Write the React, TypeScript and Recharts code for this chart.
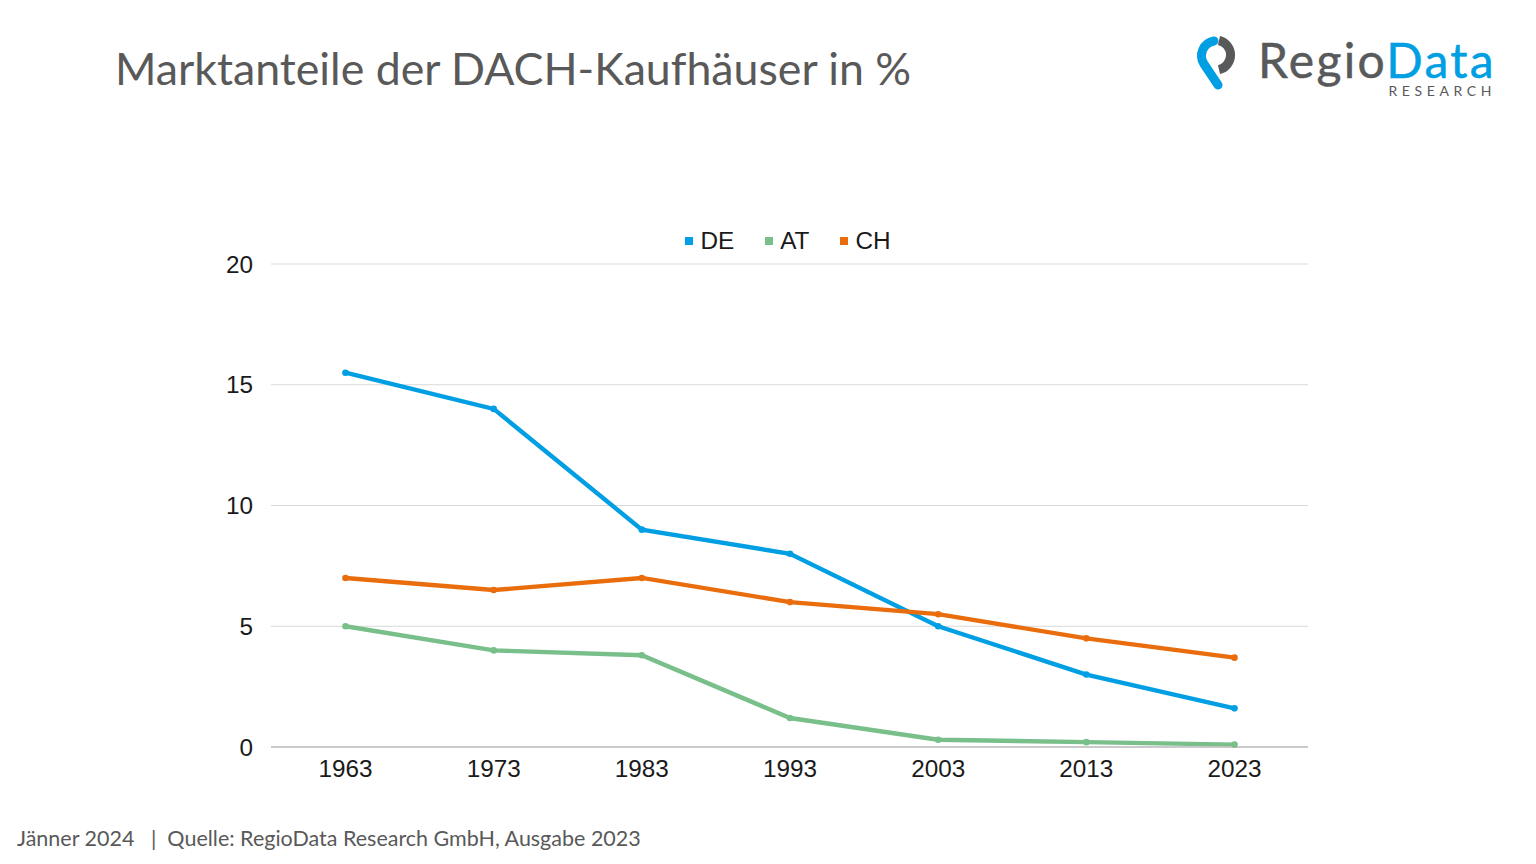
import { LineChart, Line, XAxis, YAxis, CartesianGrid, Legend } from 'recharts';

const years = ['1963', '1973', '1983', '1993', '2003', '2013', '2023'];
const de = [15.5, 14, 9, 8, 5, 3, 1.6];
const at = [5, 4, 3.8, 1.2, 0.3, 0.2, 0.1];
const ch = [7, 6.5, 7, 6, 5.5, 4.5, 3.7];
const yTicks = [0, 5, 10, 15, 20];

const BLUE = '#009fe3';
const GREEN = '#78bf8a';
const ORANGE = '#e96d0c';

const rows = years.map((year, i) => ({ year, DE: de[i], AT: at[i], CH: ch[i] }));

const chartFont = '"Liberation Sans", Arial, sans-serif';
const textFont = 'Lato, sans-serif';

function Logo() {
  return (
    <div style={{ position: 'absolute', left: 1190, top: 34, width: 310, height: 68 }}>
      <svg width={56} height={60} style={{ position: 'absolute', left: 0, top: 0 }}>
        <path d="M24 7 A15 15 0 0 0 14 30 L28 51" fill="none" stroke={BLUE} strokeWidth={9} strokeLinecap="round" />
        <path d="M29 6.5 A15 15 0 0 1 29 35.7" fill="none" stroke="#58595b" strokeWidth={9} />
      </svg>
      <div style={{ position: 'absolute', left: 68, top: 3, fontFamily: textFont, fontSize: 48, lineHeight: '46px', letterSpacing: 2.3, WebkitTextStroke: '0.5px', whiteSpace: 'nowrap' }}>
        <span style={{ color: '#58595b' }}>Regio</span>
        <span style={{ color: BLUE }}>Data</span>
      </div>
      <div style={{ position: 'absolute', right: 4, top: 50, fontFamily: textFont, fontSize: 14, lineHeight: '14px', letterSpacing: 4.6, color: '#58595b', whiteSpace: 'nowrap' }}>
        RESEARCH
      </div>
    </div>
  );
}

function LegendRow({ payload }: any) {
  return (
    <div style={{ display: 'flex', justifyContent: 'center', gap: 31, fontFamily: chartFont, fontSize: 24.3, lineHeight: '28px', color: '#1a1a1a' }}>
      {(payload || []).map((item: any) => (
        <div key={item.value} style={{ display: 'flex', alignItems: 'center', gap: 7 }}>
          <span style={{ width: 8, height: 8, background: item.color }} />
          <span>{item.value}</span>
        </div>
      ))}
    </div>
  );
}

export default function App() {
  return (
    <div style={{ position: 'absolute', left: 0, top: 0, width: 1536, height: 864, background: '#fff', overflow: 'hidden' }}>
      <div style={{ position: 'absolute', left: 115, top: 39, fontFamily: textFont, fontSize: 44.7, lineHeight: '58px', color: '#595959', fontVariantLigatures: 'none', whiteSpace: 'nowrap' }}>
        Marktanteile der DACH-Kaufhäuser in %
      </div>
      <Logo />
      <LineChart
        width={1536}
        height={864}
        data={rows}
        margin={{ top: 236, right: 228, bottom: 57, left: 211 }}
      >
        <CartesianGrid horizontal vertical={false} stroke="#d9d9d9" strokeWidth={1} />
        <XAxis
          dataKey="year"
          height={60}
          padding={{ left: 74.5, right: 73.5 }}
          tickLine={false}
          axisLine={{ stroke: '#bfbfbf', strokeWidth: 1.5 }}
          tick={{ fontFamily: chartFont, fontSize: 24.3, fill: '#1a1a1a' }}
          tickMargin={7}
        />
        <YAxis
          domain={[0, 20]}
          ticks={yTicks}
          width={60}
          tickLine={false}
          axisLine={false}
          tick={{ fontFamily: chartFont, fontSize: 24.3, fill: '#1a1a1a' }}
          tickMargin={12}
        />
        <Legend
          verticalAlign="top"
          itemSorter={null}
          content={LegendRow}
          wrapperStyle={{ position: 'absolute', left: 0, top: 227, width: 1576 }}
        />
        <Line dataKey="DE" stroke={BLUE} strokeWidth={4.4} dot={{ r: 3.3, fill: BLUE, stroke: BLUE, strokeWidth: 0 }} isAnimationActive={false} />
        <Line dataKey="AT" stroke={GREEN} strokeWidth={4.4} dot={{ r: 3.3, fill: GREEN, stroke: GREEN, strokeWidth: 0 }} isAnimationActive={false} />
        <Line dataKey="CH" stroke={ORANGE} strokeWidth={4.4} dot={{ r: 3.3, fill: ORANGE, stroke: ORANGE, strokeWidth: 0 }} isAnimationActive={false} />
      </LineChart>
      <div style={{ position: 'absolute', left: 17, top: 824, fontFamily: textFont, fontSize: 21.5, lineHeight: '28px', color: '#595959', whiteSpace: 'pre' }}>
        {'Jänner 2024   |  Quelle: RegioData Research GmbH, Ausgabe 2023'}
      </div>
    </div>
  );
}
